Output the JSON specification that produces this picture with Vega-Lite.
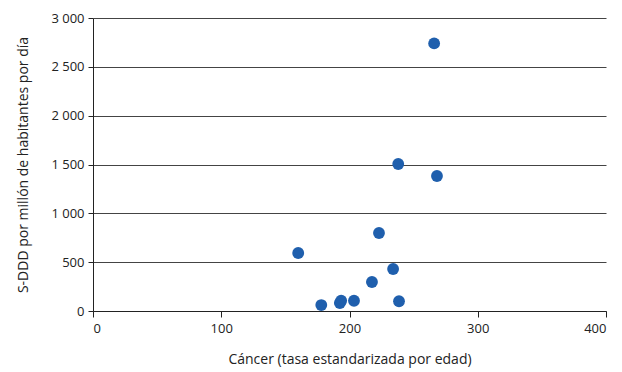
{
  "$schema": "https://vega.github.io/schema/vega-lite/v6.json",
  "autosize": {"type": "none"},
  "width": 513,
  "height": 293,
  "padding": {"left": 93, "top": 18, "right": 16, "bottom": 61},
  "background": "white",
  "config": {"view": {"stroke": null}, "font": "Open Sans"},
  "data": {"values": [
    {"cancer": 160, "sddd": 594},
    {"cancer": 178, "sddd": 61},
    {"cancer": 192.5, "sddd": 82},
    {"cancer": 193.5, "sddd": 105},
    {"cancer": 203.5, "sddd": 105},
    {"cancer": 217.5, "sddd": 297},
    {"cancer": 223, "sddd": 799},
    {"cancer": 234, "sddd": 430},
    {"cancer": 238, "sddd": 1505},
    {"cancer": 238.6, "sddd": 100},
    {"cancer": 266, "sddd": 2740},
    {"cancer": 268.2, "sddd": 1382}
  ]},
  "mark": {"type": "circle", "size": 140, "color": "#1f5fad", "opacity": 1},
  "encoding": {
    "x": {"field": "cancer", "type": "quantitative",
      "scale": {"domain": [0, 400], "nice": false, "zero": true},
      "axis": {"values": [0, 100, 200, 300, 400], "grid": false, "domainColor": "#222", "tickColor": "#222", "tickSize": 6, "labelFontSize": 13, "labelColor": "#222", "labelPadding": 5,
        "title": "Cáncer (tasa estandarizada por edad)", "titleFontSize": 14, "titleFontWeight": "normal", "titleColor": "#222", "titlePadding": 17}},
    "y": {"field": "sddd", "type": "quantitative",
      "scale": {"domain": [0, 3000], "nice": false},
      "axis": {"values": [0, 500, 1000, 1500, 2000, 2500, 3000], "grid": true, "gridColor": "#444", "gridWidth": 1, "domainColor": "#222", "tickColor": "#222", "tickSize": 5, "labelFontSize": 13, "labelColor": "#222", "labelPadding": 4,
        "labelExpr": "replace(format(datum.value, ','), ',', ' ')",
        "title": "S-DDD por millón de habitantes por día", "titleFontSize": 14, "titleFontWeight": "normal", "titleColor": "#222", "titlePadding": 20}}
  }
}
